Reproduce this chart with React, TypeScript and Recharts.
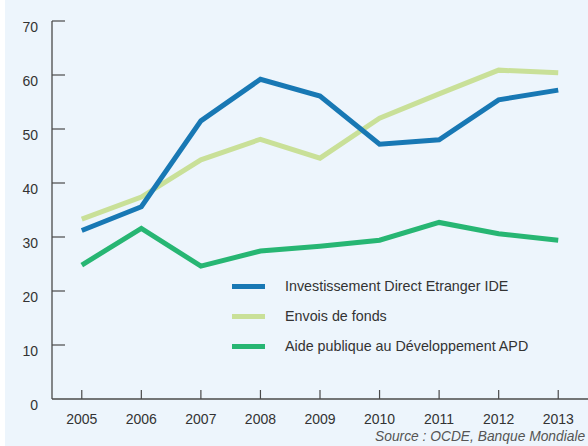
import React from 'react';
import { LineChart, Line, XAxis, YAxis } from 'recharts';

const years = [2005, 2006, 2007, 2008, 2009, 2010, 2011, 2012, 2013];
const ide = [31.2, 35.6, 51.5, 59.2, 56.1, 47.2, 48.0, 55.4, 57.2];
const envois = [33.3, 37.4, 44.3, 48.1, 44.6, 52.0, 56.5, 60.9, 60.4];
const apd = [24.8, 31.6, 24.6, 27.4, 28.3, 29.4, 32.7, 30.6, 29.4];
const yTicks = [0, 10, 20, 30, 40, 50, 60, 70];

const SERIES = [
  { key: 'ide', name: 'Investissement Direct Etranger IDE', color: '#1878b4' },
  { key: 'envois', name: 'Envois de fonds', color: '#c9e098' },
  { key: 'apd', name: 'Aide publique au Développement APD', color: '#27b673' },
];

const data = years.map((year, i) => ({
  year,
  ide: ide[i],
  envois: envois[i],
  apd: apd[i],
}));

const FONT = '"Liberation Sans", Arial, Helvetica, sans-serif';
const AXIS = '#4a4a4a';

const YTick = (props: any) => {
  const { x, y, payload } = props;
  return (
    <g>
      {payload.value !== 0 && <line x1={x} x2={x + 13} y1={y} y2={y} stroke={AXIS} strokeWidth={1.2} />}
      <text x={x - 14} y={y + 10.5} textAnchor="end" fontSize={14} fill="#333" fontFamily={FONT}>
        {payload.value}
      </text>
    </g>
  );
};

const XTick = (props: any) => {
  const { x, y, payload } = props;
  return (
    <g>
      <line x1={x} x2={x} y1={y} y2={y - 9} stroke={AXIS} strokeWidth={1.2} />
      <text x={x} y={y + 25} textAnchor="middle" fontSize={14} fill="#333" fontFamily={FONT}>
        {payload.value}
      </text>
    </g>
  );
};

const App = () => {
  return (
    <div style={{ position: 'absolute', left: 0, top: 0, width: 588, height: 446, background: '#fff', overflow: 'hidden' }}>
      <div style={{ position: 'absolute', left: 5, top: 0, width: 583, height: 446, background: '#edf5fc' }} />
      <div style={{ position: 'absolute', left: 0, top: 0 }}>
        <LineChart width={588} height={446} data={data} margin={{ top: 21, right: 0, bottom: 0, left: 0 }}>
          <XAxis
            dataKey="year"
            type="number"
            domain={[2004.5, 2013.5]}
            ticks={years}
            height={47}
            tickSize={0}
            tickMargin={0}
            axisLine={{ stroke: AXIS, strokeWidth: 1.3 }}
            tick={<XTick />}
            interval={0}
          />
          <YAxis
            type="number"
            domain={[0, 70]}
            ticks={yTicks}
            width={52}
            tickSize={0}
            tickMargin={0}
            axisLine={{ stroke: AXIS, strokeWidth: 1.3 }}
            tick={<YTick />}
            interval={0}
          />
          <Line dataKey="envois" name={SERIES[1].name} stroke={SERIES[1].color} strokeWidth={5} dot={false} isAnimationActive={false} />
          <Line dataKey="ide" name={SERIES[0].name} stroke={SERIES[0].color} strokeWidth={5} dot={false} isAnimationActive={false} />
          <Line dataKey="apd" name={SERIES[2].name} stroke={SERIES[2].color} strokeWidth={5} dot={false} isAnimationActive={false} />
        </LineChart>
      </div>
      {/* legend */}
      <div style={{ position: 'absolute', left: 232, top: 271, fontFamily: FONT, fontSize: 14.3, color: '#333' }}>
        {SERIES.map((s) => (
          <div key={s.key} style={{ display: 'flex', alignItems: 'center', height: 30 }}>
            <div style={{ width: 33, height: 5, background: s.color, marginRight: 20 }} />
            <span style={{ whiteSpace: 'nowrap' }}>{s.name}</span>
          </div>
        ))}
      </div>
      <div
        style={{
          position: 'absolute',
          left: 375,
          top: 429,
          fontFamily: FONT,
          fontStyle: 'italic',
          fontSize: 13.8,
          color: '#555',
          whiteSpace: 'nowrap',
        }}
      >
        Source : OCDE, Banque Mondiale
      </div>
    </div>
  );
};

export default App;
